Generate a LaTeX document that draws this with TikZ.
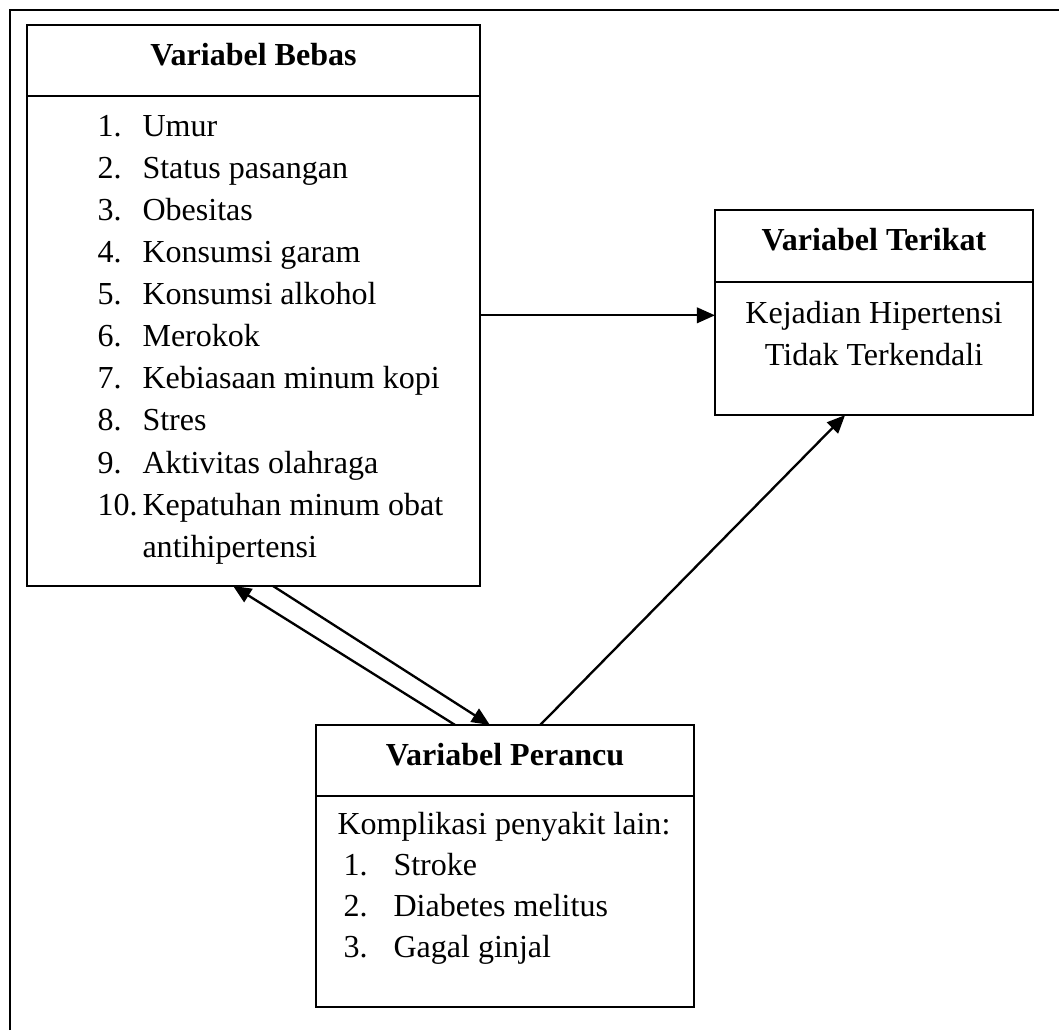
\documentclass[tikz,border=0pt]{standalone}
\usepackage{fontspec}
\setmainfont{Liberation Serif}
\usetikzlibrary{positioning,arrows.meta,calc}

\begin{document}
\begin{tikzpicture}[x=0.387pt,y=-0.387pt,
  every node/.style={font=\fontsize{12.4pt}{15pt}\selectfont},
  box/.style={draw,line width=0.8pt,outer sep=0pt,inner sep=0pt},
  head/.style={box,font=\fontsize{12.4pt}{15pt}\selectfont\bfseries,text height=0.7em,text depth=0.35em},
  item/.style={anchor=base west,inner sep=0pt},
  line/.style={anchor=base,inner sep=0pt},
  arr/.style={-{Triangle[length=7pt,width=6pt]},line width=0.9pt}]
\useasboundingbox (0,0) rectangle (1059,1030);
\draw[line width=0.8pt] (10,1030) -- (10,10) -- (1059,10);

% variabel bebas
\node [head,minimum width=175.3pt,minimum height=27.5pt] (bebas) at (253.5,60.5) {Variabel Bebas};
\node [box,minimum width=175.3pt,minimum height=189.6pt,below=0pt of bebas] (bebasbody) {};
\foreach \i/\txt in {1/Umur,2/Status pasangan,3/Obesitas,4/Konsumsi garam,5/Konsumsi alkohol,
  6/Merokok,7/Kebiasaan minum kopi,8/Stres,9/Aktivitas olahraga,10/Kepatuhan minum obat} {
  \node [item] (bn\i) at (97,95+42*\i) {\i.};
  \node [item] (bt\i) at (142,95+42*\i) {\txt};
}
\node [item] (bt11) at (142,557) {antihipertensi};

% variabel terikat
\node [head,minimum width=123.1pt,minimum height=27.9pt] (terikat) at (874,246) {Variabel Terikat};
\node [box,minimum width=123.1pt,minimum height=51.5pt,below=0pt of terikat] (terikatbody) {};
\node [line] (tk1) at (874,324) {Kejadian Hipertensi};
\node [line] (tk2) at (874,366) {Tidak Terkendali};

% variabel perancu
\node [head,minimum width=146.3pt,minimum height=27.5pt] (perancu) at (505,760.5) {Variabel Perancu};
\node [box,minimum width=146.3pt,minimum height=81.7pt,below=0pt of perancu] (perancubody) {};
\node [item] (pk) at (337,834) {Komplikasi penyakit lain:};
\foreach \i/\txt in {1/Stroke,2/Diabetes melitus,3/Gagal ginjal} {
  \node [item] (pn\i) at (343,834+41*\i) {\i.};
  \node [item] (pt\i) at (393,834+41*\i) {\txt};
}

% panah
\coordinate (tin) at ($(terikatbody.north west)!0.25!(terikatbody.south west)$);
\draw[arr] (bebasbody.east |- tin) -- (tin);
\draw[arr] ($(perancu.north west)!0.593!(perancu.north east)$) -- ($(terikatbody.south west)!0.409!(terikatbody.south east)$);
\draw[arr] ($(perancu.north west)!0.368!(perancu.north east)$) -- ($(bebasbody.south west)!0.455!(bebasbody.south east)$);
\draw[arr] ($(bebasbody.south west)!0.543!(bebasbody.south east)$) -- ($(perancu.north west)!0.460!(perancu.north east)$);
\end{tikzpicture}
\end{document}
